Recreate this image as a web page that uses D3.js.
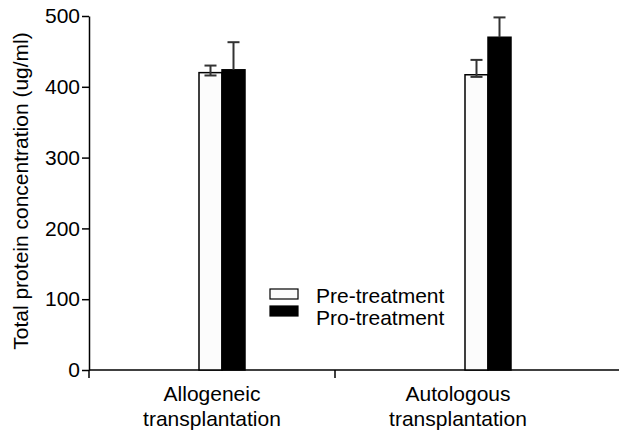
<!DOCTYPE html>
<html>
<head>
<meta charset="utf-8">
<script src="https://cdn.jsdelivr.net/npm/d3@7"></script>
<style>
	body { margin: 0; background: #fff; }
	svg { display: block; font-family: "Liberation Sans", Arial, sans-serif; }
</style>
</head>
<body>
<div class="chart"></div>
<script>
// values
var categories = ["Allogeneic", "Autologous"];
var catLines = [["Allogeneic", "transplantation"], ["Autologous", "transplantation"]];
var series = ["Pre-treatment", "Pro-treatment"];
var preValues = [420, 417];
var preErrHi = [430, 438];
var preErrLo = [416, 414];
var proValues = [424, 470];
var proErrHi = [463, 498];
var yTicks = [0, 100, 200, 300, 400, 500];

var width = 619, height = 430;

var svg = d3.select(".chart").append("svg")
	.attr("width", width)
	.attr("height", height);

var y = d3.scaleLinear()
	.domain([0, 500])
	.range([370, 16]);

// band scale for the category axis (ticks at band edges, labels at centres)
var xBand = d3.scaleBand()
	.domain(categories)
	.range([89, 581]);

// bar groups sit a bit right of the label centres in the original
var xGroup = d3.scalePoint()
	.domain(categories)
	.range([222, 488]);

var xSub = d3.scaleBand()
	.domain(series)
	.range([-23, 23]);

var fills = {"Pre-treatment": "#fcfcfc", "Pro-treatment": "#000"};

var rows = categories.map(function(c, i) {
	return {
		cat: c,
		bars: [
			{s: series[0], v: preValues[i], hi: preErrHi[i], lo: preErrLo[i]},
			{s: series[1], v: proValues[i], hi: proErrHi[i], lo: proValues[i]}
		]
	};
});

// y axis
var yAxis = d3.axisLeft(y)
	.tickValues(yTicks)
	.tickSize(7)
	.tickPadding(2)
	.tickSizeOuter(0);

var gy = svg.append("g")
	.attr("transform", "translate(89,0)")
	.call(yAxis);
gy.select(".domain").attr("stroke", "#000").attr("stroke-width", 1.5);
gy.selectAll(".tick line").attr("stroke", "#000").attr("stroke-width", 1.5);
gy.selectAll(".tick text")
	.attr("fill", "#000")
	.style("font-size", "21px");

// x axis line + ticks at band edges
svg.append("line")
	.attr("x1", 89).attr("x2", width)
	.attr("y1", y(0)).attr("y2", y(0))
	.attr("stroke", "#000").attr("stroke-width", 1.5);

svg.selectAll(".xtick").data(categories).enter()
	.append("line")
	.attr("class", "xtick")
	.attr("x1", function(d){ return xBand(d) })
	.attr("x2", function(d){ return xBand(d) })
	.attr("y1", y(0))
	.attr("y2", y(0) + 8)
	.attr("stroke", "#000").attr("stroke-width", 1.5);

var labels = svg.selectAll(".xlabel").data(categories).enter()
	.append("text")
	.attr("class", "xlabel")
	.attr("text-anchor", "middle")
	.style("font-size", "21px")
	.attr("fill", "#000");

labels.each(function(d, i) {
	var t = d3.select(this);
	catLines[i].forEach(function(line, j) {
		t.append("tspan")
			.attr("x", xBand(d) + xBand.bandwidth() / 2)
			.attr("y", 401 + j * 25)
			.text(line);
	});
});

// y axis title
svg.append("text")
	.attr("transform", "translate(28," + 191 + ") rotate(-90)")
	.attr("text-anchor", "middle")
	.style("font-size", "21px")
	.attr("fill", "#000")
	.text("Total protein concentration (ug/ml)");

// bars
var groups = svg.selectAll(".grp").data(rows).enter()
	.append("g")
	.attr("class", "grp")
	.attr("transform", function(d){ return "translate(" + xGroup(d.cat) + ",0)" });

groups.selectAll("rect").data(function(d){ return d.bars }).enter()
	.append("rect")
	.attr("x", function(d){ return xSub(d.s) })
	.attr("y", function(d){ return y(d.v) })
	.attr("width", xSub.bandwidth())
	.attr("height", function(d){ return y(0) - y(d.v) })
	.attr("fill", function(d){ return fills[d.s] })
	.attr("stroke", "#000")
	.attr("stroke-width", 1.5);

// error bars
var capW = 12;
var err = groups.selectAll(".err").data(function(d){ return d.bars }).enter()
	.append("g")
	.attr("class", "err")
	.attr("stroke", "#333")
	.attr("stroke-width", 2);

err.append("line")
	.attr("x1", function(d){ return xSub(d.s) + xSub.bandwidth() / 2 })
	.attr("x2", function(d){ return xSub(d.s) + xSub.bandwidth() / 2 })
	.attr("y1", function(d){ return y(d.lo) })
	.attr("y2", function(d){ return y(d.hi) });

err.append("line")
	.attr("x1", function(d){ return xSub(d.s) + xSub.bandwidth() / 2 - capW / 2 })
	.attr("x2", function(d){ return xSub(d.s) + xSub.bandwidth() / 2 + capW / 2 })
	.attr("y1", function(d){ return y(d.hi) })
	.attr("y2", function(d){ return y(d.hi) });

err.filter(function(d){ return d.lo < d.v })
	.append("line")
	.attr("x1", function(d){ return xSub(d.s) + xSub.bandwidth() / 2 - capW / 2 })
	.attr("x2", function(d){ return xSub(d.s) + xSub.bandwidth() / 2 + capW / 2 })
	.attr("y1", function(d){ return y(d.lo) })
	.attr("y2", function(d){ return y(d.lo) });

// legend
var legend = svg.append("g").attr("class", "legend");
series.forEach(function(s, i) {
	legend.append("rect")
		.attr("x", 270)
		.attr("y", 289 + i * 17)
		.attr("width", 28)
		.attr("height", 10)
		.attr("fill", fills[s])
		.attr("stroke", "#000")
		.attr("stroke-width", 1.2);
	legend.append("text")
		.attr("x", 316)
		.attr("y", 303 + i * 22)
		.style("font-size", "21px")
		.attr("fill", "#000")
		.text(s);
});
</script>
</body>
</html>
